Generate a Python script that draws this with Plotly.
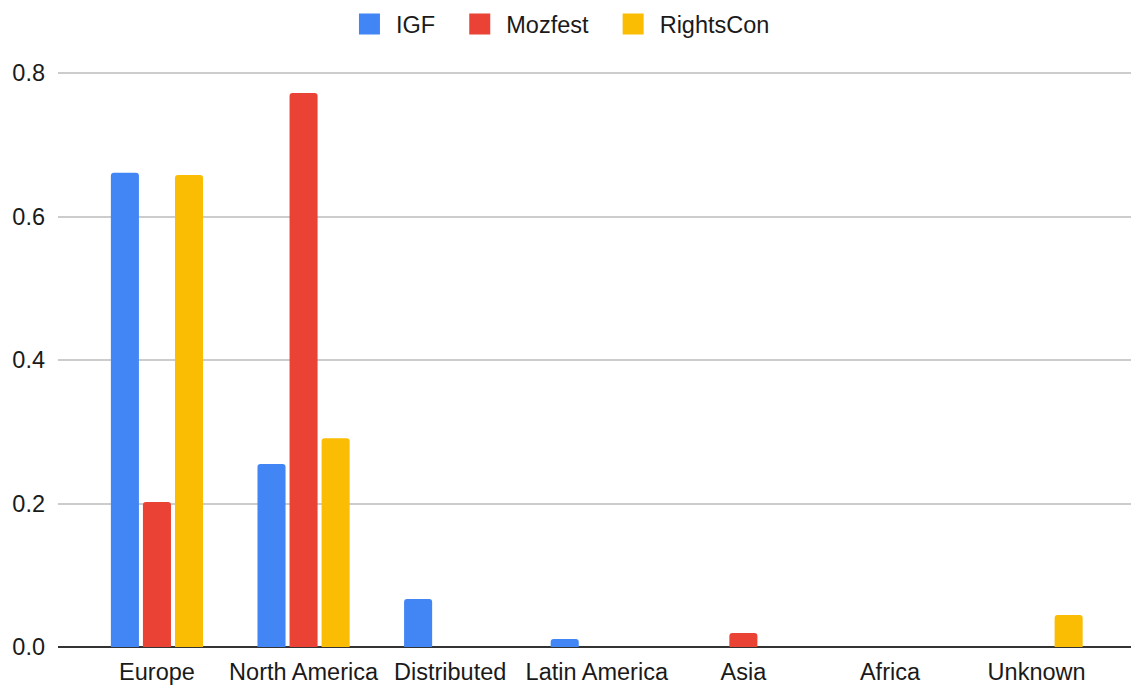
import plotly.graph_objects as go

categories = ["Europe", "North America", "Distributed", "Latin America", "Asia", "Africa", "Unknown"]
igf = [0.661, 0.255, 0.067, 0.011, 0, 0, 0]
mozfest = [0.202, 0.772, 0, 0, 0.0195, 0, 0]
rightscon = [0.658, 0.291, 0, 0, 0, 0, 0.0446]
series_names = ["IGF", "Mozfest", "RightsCon"]
colors = ["#4285F4", "#EA4335", "#FBBC04"]
y_ticks = [0.0, 0.2, 0.4, 0.6, 0.8]
y_tick_text = ["0.0", "0.2", "0.4", "0.6", "0.8"]

NB = "\u00a0"

fig = go.Figure()
for name, vals, col in zip(series_names, [igf, mozfest, rightscon], colors):
    fig.add_trace(go.Bar(x=categories, y=vals, name=name, showlegend=False,
                         marker=dict(color=col, cornerradius=3, line=dict(width=0))))
# legend entries with larger square swatches
for name, col in zip(series_names, colors):
    fig.add_trace(go.Scatter(x=[None], y=[None], mode="markers", name=NB + name + NB * 3,
                             marker=dict(symbol="square", size=16, color=col,
                                         line=dict(color=col, width=5))))

font = "Liberation Sans, Arial, Helvetica, sans-serif"
fig.update_layout(
    width=1131, height=686,
    margin=dict(l=58, r=0, t=71, b=39),
    paper_bgcolor="white", plot_bgcolor="white",
    barmode="group", bargap=0.344, bargroupgap=0.125,
    font=dict(family=font, size=23.5, color="#1a1a1a"),
    legend=dict(orientation="h", x=0.479, xanchor="center", y=1.081, yanchor="middle",
                font=dict(size=23.5, color="#1a1a1a"), itemsizing="trace", traceorder="normal"),
    xaxis=dict(range=[-0.675, 6.644], showgrid=False, ticks="", tickfont=dict(size=23.5, color="#1a1a1a"),
               showline=False, zeroline=False, ticklabelstandoff=8),
    yaxis=dict(range=[0, 0.8028], tickvals=y_ticks, ticktext=y_tick_text,
               showgrid=True, gridcolor="#cccccc", gridwidth=1.5, zeroline=True, zerolinecolor="#333333",
               zerolinewidth=1.5, tickfont=dict(size=23.5, color="#1a1a1a"), ticklabelstandoff=12),
    showlegend=True,
)
fig.write_html("out.html")
